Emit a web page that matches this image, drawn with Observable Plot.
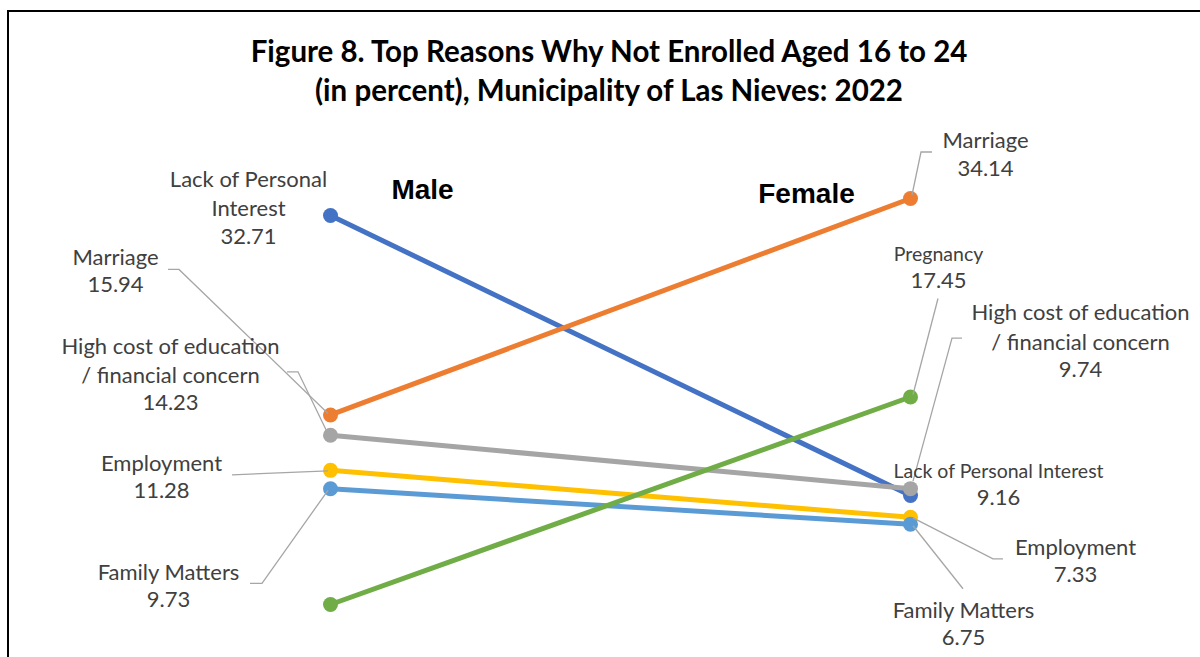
<!DOCTYPE html>
<html>
<head>
<meta charset="utf-8">
<script src="https://cdn.jsdelivr.net/npm/d3@7"></script>
<script src="https://cdn.jsdelivr.net/npm/@observablehq/plot@0.6"></script>
<style>
  html, body { margin: 0; padding: 0; background: #fff; }
  #wrap { position: relative; width: 1200px; height: 657px; overflow: hidden; background: #fff; }
  #frame { position: absolute; left: 7px; top: 10px; width: 1300px; height: 800px; border: 2px solid #000; box-sizing: border-box; }
  #title { position: absolute; left: 0; top: 31px; width: 1218px; text-align: center; font-family: Lato, "Open Sans", sans-serif; font-weight: 700; font-size: 29.5px; line-height: 39px; color: #000; }
  #chart { position: absolute; left: 0; top: 0; }
</style>
</head>
<body>
<div id="wrap">
  <div id="frame"></div>
  <div id="chart"></div>
  <div id="title">Figure 8. Top Reasons Why Not Enrolled Aged 16 to 24<br>(in percent), Municipality of Las Nieves: 2022</div>
</div>
<script>
// ---- data ----
const sexes = ["Male", "Female"];
const reasons = [
  "Lack of Personal Interest",
  "Marriage",
  "High cost of education / financial concern",
  "Employment",
  "Family Matters",
  "Pregnancy"
];
const maleValues = [32.71, 15.94, 14.23, 11.28, 9.73, 0];
const femaleValues = [9.16, 34.14, 9.74, 7.33, 6.75, 17.45];

// ---- styles ----
const reasonColors = ["#4472C4", "#ED7D31", "#A5A5A5", "#FFC000", "#5B9BD5", "#70AD47"];

const rows = reasons.flatMap((r, i) => [
  {reason: r, sex: "Male", value: maleValues[i]},
  {reason: r, sex: "Female", value: femaleValues[i]}
]);
const valueOf = (reason, sex) => rows.find(d => d.reason === reason && d.sex === sex).value;

// ---- label layout (pixel offsets from the data point) ----
const labelLayout = [
  {reason: "Lack of Personal Interest", sex: "Male", name: "Lack of Personal\nInterest", dx: -82, dy: 21},
  {reason: "Marriage", sex: "Male", name: "Marriage", dx: -215, dy: -130,
   leader: [[-162, -145], [-151, -145], [-2, -1]]},
  {reason: "High cost of education / financial concern", sex: "Male", name: "High cost of education\n/ financial concern", dx: -160, dy: -32,
   leader: [[-43, -63], [-32, -63], [-4, -5]]},
  {reason: "Employment", sex: "Male", name: "Employment", dx: -169, dy: 21,
   leader: [[-98, 5], [-2, 1]]},
  {reason: "Family Matters", sex: "Male", name: "Family Matters", dx: -162, dy: 111,
   leader: [[-80, 95], [-68, 95], [-2, 2]]},
  {reason: "Marriage", sex: "Female", name: "Marriage", dx: 75, dy: -30,
   leader: [[22, -46], [11, -46], [2, -3]]},
  {reason: "Pregnancy", sex: "Female", name: "Pregnancy", dx: 28, dy: -116, small: true,
   leader: [[28, -98], [3, -2]]},
  {reason: "High cost of education / financial concern", sex: "Female", name: "High cost of education\n/ financial concern", dx: 170, dy: -119,
   leader: [[52, -150], [42, -150], [3, -7]]},
  {reason: "Lack of Personal Interest", sex: "Female", name: "Lack of Personal Interest", dx: 88, dy: 2, small: true},
  {reason: "Employment", sex: "Female", name: "Employment", dx: 165, dy: 58,
   leader: [[93, 42], [83, 42], [3, 1]]},
  {reason: "Family Matters", sex: "Female", name: "Family Matters", dx: 53, dy: 114,
   leader: [[53, 65], [3, 2]]}
];
const headerLayout = [
  {sex: "Male", dx: 92, dy: 190},
  {sex: "Female", dx: -104, dy: 194}
];

const LABEL_FONT = "Lato, 'Open Sans', sans-serif";
const LABEL_SIZE = 22;
const SMALL_SIZE = 19.5;
const LINE = 29.5;

const marks = [];
// series lines + markers
reasons.forEach((r) => {
  const data = rows.filter(d => d.reason === r);
  marks.push(Plot.line(data, {x: "sex", y: "value", stroke: "reason", strokeWidth: 5}));
  marks.push(Plot.dot(data, {x: "sex", y: "value", fill: "reason", r: 7.5, stroke: null}));
});

// leader lines
marks.push((index, scales) => {
  const g = d3.create("svg:g")
    .attr("fill", "none")
    .attr("stroke", "#A6A6A6")
    .attr("stroke-width", 1.3);
  for (const L of labelLayout) {
    if (!L.leader) continue;
    const px = scales.x(L.sex), py = scales.y(valueOf(L.reason, L.sex));
    g.append("polyline").attr("points", L.leader.map(([a, b]) => `${px + a},${py + b}`).join(" "));
  }
  return g.node();
});

// labels
for (const L of labelLayout) {
  const datum = [{sex: L.sex, value: valueOf(L.reason, L.sex)}];
  const nLines = L.name.split("\n").length;
  marks.push(Plot.text(datum, {
    x: "sex", y: "value", text: () => L.name,
    dx: L.dx, dy: L.dy - LINE * (nLines + 1) / 2,
    lineAnchor: "middle", lineHeight: LINE / (L.small ? SMALL_SIZE : LABEL_SIZE),
    fontFamily: LABEL_FONT, fontSize: L.small ? SMALL_SIZE : LABEL_SIZE, fill: "#404040", textAnchor: "middle"
  }));
  marks.push(Plot.text(datum, {
    x: "sex", y: "value", text: d => d.value.toFixed(2),
    dx: L.dx, dy: L.dy,
    lineAnchor: "middle",
    fontFamily: LABEL_FONT, fontSize: LABEL_SIZE, fill: "#404040", textAnchor: "middle"
  }));
}

// Male / Female headers
for (const H of headerLayout) {
  marks.push(Plot.text([H.sex], {
    x: d => d, text: d => d, frameAnchor: "top",
    dx: H.dx, dy: H.dy, lineAnchor: "middle",
    fontFamily: "'Liberation Sans', Arial, sans-serif", fontWeight: "bold", fontSize: 28, fill: "#000"
  }));
}

const chart = Plot.plot({
  width: 1200,
  height: 657,
  marginTop: 0, marginRight: 0, marginBottom: 0, marginLeft: 0,
  style: {background: "transparent", overflow: "visible"},
  x: {type: "point", domain: sexes, range: [330, 910], padding: 0, axis: null},
  y: {domain: [0, 35], range: [604, 604 - 35 * 11.892], axis: null},
  color: {domain: reasons, range: reasonColors},
  marks
});
document.getElementById("chart").appendChild(chart);
</script>
</body>
</html>
